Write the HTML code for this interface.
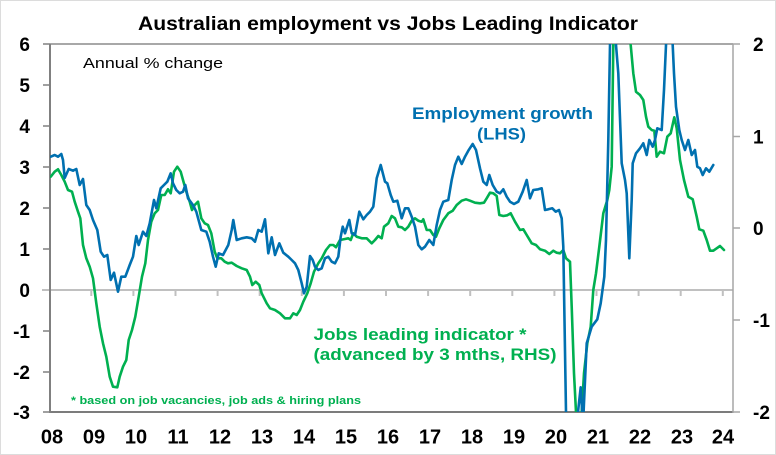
<!DOCTYPE html>
<html><head><meta charset="utf-8"><style>
html,body{margin:0;padding:0;background:#fff;}
svg{display:block;}
text{font-family:"Liberation Sans",Arial,sans-serif;}
</style></head><body>
<svg width="776" height="455" viewBox="0 0 776 455" xmlns="http://www.w3.org/2000/svg">
<rect x="0.5" y="0.5" width="775" height="454" fill="#fff" stroke="#dcdcdc" stroke-width="1"/>
<defs><clipPath id="pc"><rect x="50" y="44" width="683" height="368"/></clipPath></defs>

<text x="138" y="30" font-size="19.5" font-weight="bold" fill="#000" textLength="500" lengthAdjust="spacingAndGlyphs">Australian employment vs Jobs Leading Indicator</text>

<!-- zero line & ticks -->
<line x1="42" y1="290" x2="733" y2="290" stroke="#c0c0c0" stroke-width="2"/>
<g stroke="#c0c0c0" stroke-width="2">
<line x1="91.3" y1="290" x2="91.3" y2="296"/><line x1="133.4" y1="290" x2="133.4" y2="296"/><line x1="175.5" y1="290" x2="175.5" y2="296"/><line x1="217.6" y1="290" x2="217.6" y2="296"/><line x1="259.7" y1="290" x2="259.7" y2="296"/><line x1="301.8" y1="290" x2="301.8" y2="296"/><line x1="343.9" y1="290" x2="343.9" y2="296"/><line x1="386" y1="290" x2="386" y2="296"/><line x1="428.1" y1="290" x2="428.1" y2="296"/><line x1="470.2" y1="290" x2="470.2" y2="296"/><line x1="512.3" y1="290" x2="512.3" y2="296"/><line x1="554.4" y1="290" x2="554.4" y2="296"/><line x1="596.5" y1="290" x2="596.5" y2="296"/><line x1="638.6" y1="290" x2="638.6" y2="296"/><line x1="680.7" y1="290" x2="680.7" y2="296"/><line x1="722.8" y1="290" x2="722.8" y2="296"/>
</g>
<!-- frame -->
<line x1="50" y1="44" x2="733" y2="44" stroke="#505050" stroke-width="1"/>
<line x1="50" y1="412" x2="733" y2="412" stroke="#505050" stroke-width="1.5"/>
<line x1="50" y1="44" x2="50" y2="413" stroke="#808080" stroke-width="2"/>
<line x1="733" y1="44" x2="733" y2="413" stroke="#a6a6a6" stroke-width="1.5"/>
<g stroke="#808080" stroke-width="1.5">
<line x1="43" y1="44" x2="50" y2="44"/><line x1="43" y1="85" x2="50" y2="85"/><line x1="43" y1="126" x2="50" y2="126"/><line x1="43" y1="167" x2="50" y2="167"/><line x1="43" y1="208" x2="50" y2="208"/><line x1="43" y1="249" x2="50" y2="249"/><line x1="43" y1="331" x2="50" y2="331"/><line x1="43" y1="372" x2="50" y2="372"/><line x1="43" y1="412" x2="50" y2="412"/>
</g>
<g stroke="#a6a6a6" stroke-width="1.5">
<line x1="733" y1="44" x2="740" y2="44"/><line x1="733" y1="136.5" x2="740" y2="136.5"/><line x1="733" y1="228" x2="740" y2="228"/><line x1="733" y1="320" x2="740" y2="320"/><line x1="733" y1="412" x2="740" y2="412"/>
</g>

<!-- left labels -->
<g font-size="19" font-weight="bold" fill="#000" text-anchor="end">
<text x="30" y="51">6</text><text x="30" y="92">5</text><text x="30" y="133">4</text><text x="30" y="174">3</text><text x="30" y="215">2</text><text x="30" y="256">1</text><text x="30" y="297">0</text><text x="30" y="338">-1</text><text x="30" y="379">-2</text><text x="30" y="419">-3</text>
</g>
<!-- right labels -->
<g font-size="19" font-weight="bold" fill="#000">
<text x="753" y="51">2</text><text x="753" y="143.5">1</text><text x="753" y="235">0</text><text x="753" y="327">-1</text><text x="753" y="419">-2</text>
</g>
<!-- x labels -->
<g font-size="20" font-weight="bold" fill="#000" text-anchor="middle">
<text x="52" y="443.5">08</text><text x="94" y="443.5">09</text><text x="136" y="443.5">10</text><text x="178" y="443.5">11</text><text x="220" y="443.5">12</text><text x="262" y="443.5">13</text><text x="304" y="443.5">14</text><text x="346" y="443.5">15</text><text x="388" y="443.5">16</text><text x="430" y="443.5">17</text><text x="472" y="443.5">18</text><text x="514" y="443.5">19</text><text x="556" y="443.5">20</text><text x="598" y="443.5">21</text><text x="640" y="443.5">22</text><text x="682" y="443.5">23</text><text x="723" y="443.5">24</text>
</g>

<g clip-path="url(#pc)" fill="none" stroke-width="2.6" stroke-linejoin="round" stroke-linecap="round">
<polyline stroke="#00b050" points="50.7,176.7 54.7,171.7 58,169.3 61.3,175 64.7,181.7 68,190 72,191.7 74.7,201.7 78,211.7 80.3,218.3 83,245 86.3,258.3 89.7,266.7 93,278.3 96.3,303.3 99.7,326.7 103,343.3 106.3,356.7 109.7,376.7 113,386.7 117.3,387.3 119.7,376.7 123,366.7 126.3,360 128.7,340 132,330 135.3,316.7 138.7,296.7 142,276.7 145.3,263.3 148,240 151.3,221.7 154.7,213.3 158,210 161.3,195 164.7,195 168,189.3 170.7,193.3 174,171.7 177.3,166.7 180.7,171.7 183,180 186.3,191.7 189.7,201.7 192,210 194.7,205 198,201.7 201.3,218.3 204.7,223.3 208,225 211.3,233.3 214.7,251.7 217.3,258.3 221.3,258.3 224.7,261.7 228,263.3 231.7,262.7 236.7,266 241.7,268.3 246.7,270 250,276.7 252.3,285 255.7,281.7 259.3,285 261.7,293.3 266.7,303.3 270,308.3 275,310 280,313.3 285,318.3 290,318.3 293.3,313.3 296.7,315 300,310 303.3,301.7 307.3,293.3 310.7,283.3 314,271.7 318.3,263.3 321.7,258.3 326,250 330,245 333.3,245 336,247.3 340,240 345,239 348.3,238.3 350.7,240 353.3,233.3 356.7,236.7 361.7,238.3 366.7,238.3 371.7,243.3 375,240 378.3,236 381.7,238.3 384,226.7 388.3,223.3 391.7,216 395,218.3 398.3,226.7 401.7,227.3 405,230 408.3,226.7 411.7,220.7 415,218.3 418.3,220.7 421.7,221.7 423.3,219.3 426.7,230 430,230 433.3,235 436,236.7 439.3,228.3 443.3,220 448.3,213.3 452.7,210.7 456.7,205 461.7,200.7 466,199.3 470,200.7 475,202.7 480,203.3 484,202.7 486.7,198.3 490,192.7 493.3,193.3 496.7,196 499.3,215 503.3,216 507.3,215.3 510.7,213.3 515,221.7 520,230 523.3,229.3 526.7,235 531.7,243.3 536,245 540,249.3 545,250.7 549.3,254 553.3,250.7 556.7,252.7 560,253.3 563.3,250 566,258.3 570,261.7 571.7,306.7 574,373.3 576,412 577,440 581,440 581.7,412 584,373.3 587.3,343.3 590.7,326.7 593.3,290 596,273.3 599.3,246.7 603.3,213.3 607.3,200 609.3,190 611.7,166.7 613.3,45 614,10 629,10 630.7,45 633.3,73.3 636,91.7 640,95 643.3,100 646,116.7 648.3,126.7 651.7,130 654.3,130.7 656.7,156.7 660,151.7 664,153.3 667.3,136.7 670.7,133.3 674.3,117.3 676.7,128.3 680,160 684,180 688.3,196.7 692.7,199.3 696.7,216.7 699.3,229.3 703.3,230.7 706.7,240 710,250.7 713.3,250.7 716.7,248.3 720,246 724,250"/>
<polyline stroke="#0070b0" points="50.7,156.7 54.7,155 58,156.7 61.3,154 63,160 64.7,178 68.7,169 73,170.7 76.3,169 79.7,185 83,179 86.3,205 89.7,210 93,220 97.3,230 100.7,251.7 104,256.7 107.3,255 110.7,280 114,272.7 118,291.7 121.3,276.7 125.3,276.7 129.7,265 133,256.7 136.3,236 138.7,245 143,231.7 146.3,236 149.7,223.3 154,200 156.3,208.3 160.7,188.3 164,185 167.3,181.7 170.7,173.3 173,183.3 176.3,190 179.7,193.3 183,191.7 185.3,185 188,198.3 193,205 196.3,211.7 201.3,230 206.3,231.7 209.7,241.7 213,256.7 215.7,266.7 218.7,253.3 223,255 228.3,245 231.7,230 233.3,220 236.7,240 241.7,238.3 246.7,237.3 251.7,238.3 255,241.7 258.3,230 261.7,231.7 265,219.3 268.3,253.3 271.7,237.3 275,255 279.3,243.3 283.3,252.7 288.3,256.7 291.7,260 295,263.3 298.3,270 301.7,283.3 304,293.3 306.7,286.7 310,256 312.7,260 315,266.7 318.3,270 321.7,268.3 325,258.3 328.3,256.7 331.7,261.7 335,263.3 338.3,256.7 340.7,236.7 342.7,226.7 345,233.3 349.3,220 351.7,233.3 355,235 359.3,211.7 363.3,219.3 366.7,215 370,211.7 373.3,206.7 376.7,178.3 380.7,165 385,181.7 387.3,183.3 390.7,195 393.3,201.7 397.3,200.7 401.7,218.3 405,208.3 408.3,208.3 411.7,216.7 415,226.7 418.3,245 421.7,249.3 425,246.7 429.3,240 433.3,245 436.7,225 440,210 443.3,201.7 448.3,200 451.7,180 455,165 458.3,156.7 461.7,164 465,156.7 468.3,150.7 472.7,144 476,150 480,168.3 483.3,181.7 486.7,185 489.3,175 492.7,185 496.7,191.7 500,193.3 503.3,189.3 506.7,196.7 510,201.7 514,204 518.3,201.7 522.7,191.7 526.7,180 530,198.3 533.3,190 538.3,189.3 541.7,188.3 545,210 548.3,209.3 552.3,208.3 555.7,211.7 559,210 561.7,218.3 563.3,246.7 566,412 567,440 576,440 578,412 580.7,387.3 583,425 586.7,343.3 591.7,326.7 597.3,319.3 600.7,303.3 604.3,276.7 606,240 608.3,140 610,45 612,10 615,10 616,45 618.3,73.3 621.7,163.3 625,180 626.7,193.3 629.3,258.3 631.7,200 632.7,163.3 636,153.3 640,148.3 643.3,143.3 646.7,155 649.3,140 652.7,146.7 655,140 657.3,128.3 661.7,130 664,90 666,45 668,10 671,10 672.7,45 674,73.3 676,106.7 679.3,130 681.7,140 685,150 688.3,140 691.7,155 695,150 697.3,166.7 700,168.3 702.7,175 706,168.3 709.3,171.7 713.3,165"/>
</g>

<text x="83" y="68" font-size="15" fill="#000" textLength="140" lengthAdjust="spacingAndGlyphs">Annual % change</text>
<g font-size="17" font-weight="bold" fill="#0070b0">
<text x="412" y="119" textLength="181" lengthAdjust="spacingAndGlyphs">Employment growth</text>
<text x="477" y="139.5" textLength="49" lengthAdjust="spacingAndGlyphs">(LHS)</text>
</g>
<g font-size="17" font-weight="bold" fill="#00b050">
<text x="313.5" y="340" textLength="213" lengthAdjust="spacingAndGlyphs">Jobs leading indicator *</text>
<text x="313.5" y="360" textLength="243" lengthAdjust="spacingAndGlyphs">(advanced by 3 mths, RHS)</text>
</g>
<text x="71" y="404" font-size="11" font-weight="bold" fill="#00b050" textLength="290" lengthAdjust="spacingAndGlyphs">* based on job vacancies, job ads &amp; hiring plans</text>
</svg>
</body></html>
